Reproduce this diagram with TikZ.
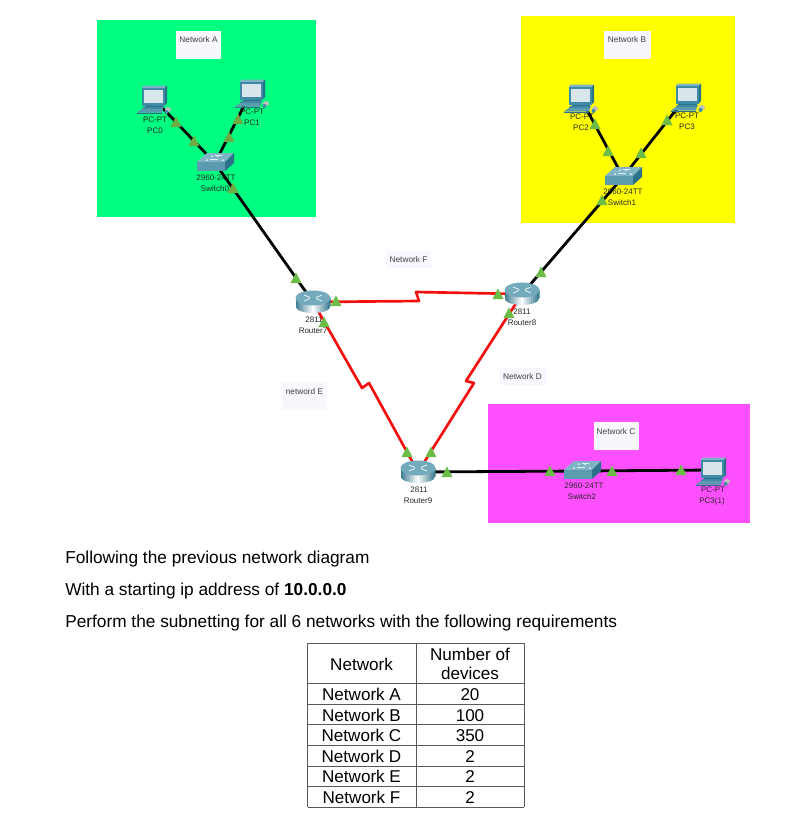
\documentclass[tikz,border=0pt]{standalone}
\usepackage{fontspec}
\setmainfont{Liberation Sans}
\definecolor{netgreen}{HTML}{00FF80}
\definecolor{netyellow}{HTML}{FFFF00}
\definecolor{netpink}{HTML}{FF50FF}
\definecolor{labelbg}{HTML}{F7F8FE}
\definecolor{linkred}{HTML}{F40F0F}
\definecolor{markgreen}{HTML}{6CBC48}
\definecolor{markolive}{HTML}{6FAB45}
\definecolor{icona}{HTML}{3F8AA5}
\definecolor{iconb}{HTML}{2B7189}
\definecolor{iconc}{HTML}{7FB4C6}
\definecolor{icond}{HTML}{5A9BB0}
\definecolor{screen}{HTML}{D8E5EB}
\tikzset{
  x=0.75pt,y=-0.75pt,
  wire/.style={draw=black,line width=2.1pt},
  serial/.style={draw=linkred,line width=2pt,line join=round},
  devtext/.style={font=\fontsize{6}{7}\selectfont,text=black!85,inner sep=0pt,text height=4.4pt,text depth=0pt},
  nettext/.style={font=\fontsize{6.2}{7}\selectfont,text=black!75,inner sep=0pt,text height=4.5pt,text depth=0pt},
  bodytext/.style={font=\fontsize{12.95}{15}\selectfont,inner sep=0pt,anchor=west,text height=9.3pt,text depth=0pt},
  celltext/.style={font=\fontsize{12.8}{15}\selectfont,inner sep=0pt,text height=9.2pt,text depth=0pt},
  rule/.style={draw=black!65,line width=0.65pt},
  pcicon/.pic={
    \fill[iconc] (-11.5,-10) -- (-9,-12.5) -- (14,-12.5) -- (11.5,-10) -- cycle;
    \fill[iconb] (11.5,-10) -- (14,-12.5) -- (14,5) -- (11.5,7.5) -- cycle;
    \fill[icona] (-11.5,-10) rectangle (11.5,7.5);
    \fill[screen] (-9.5,-8) rectangle (10,4.5);
    \fill[iconb] (-8,7.5) rectangle (10,9);
    \fill[icona] (-10,9) -- (11,9) -- (10,11) -- (-11,11) -- cycle;
    \fill[icond] (-11,11) -- (10,11) -- (9,14.5) -- (-16,14.5) -- cycle;
    \fill[iconb] (-16,14.5) -- (9,14.5) -- (9,15.5) -- (-16,15.5) -- cycle;
    \fill[gray!50] (15,11.5) ellipse [x radius=3,y radius=2.5];
    \fill[icona] (13.5,14) ellipse [x radius=2,y radius=2];
  },
  switchicon/.pic={
    \fill[iconc] (-18,-1) -- (-8,-10) -- (19,-10) -- (10,-1) -- cycle;
    \fill[icond] (-18,-1) rectangle (10,8);
    \fill[iconb] (10,-1) -- (19,-10) -- (19,0) -- (10,8) -- cycle;
    \fill[white!85!iconc] (-8,-3) circle (1) (-3,-7) circle (1) (3,-7) circle (1) (8,-3) circle (1);
    \draw[white!80!iconc,line width=0.5pt] (-5,-4) -- (3,-4) (0,-8) -- (7,-8);
  },
  routericon/.pic={
    \begin{scope}
      \clip (-17.5,-4) -- (-17.5,4) .. controls (-17.5,13.3) and (17.5,13.3) .. (17.5,4) -- (17.5,-4) -- cycle;
      \foreach \i in {0,...,17} {
        \pgfmathsetmacro{\mixv}{int(100-abs(\i-8)*11)}
        \fill[white!\mixv!iconb] (-17.5+\i*2,-12) rectangle (-15.3+\i*2,13);
      }
    \end{scope}
    \fill[icond!85!white] (0,-4) ellipse [x radius=17.5,y radius=7.5];
    \draw[white!85!icona,line width=0.7pt] (-9,-7) -- (-3,-4.5) (9,-7) -- (3,-4.5) (-9,-1) -- (-3,-3.5) (9,-1) -- (3,-3.5);
  },
  markg/.pic={\fill[markgreen] (-5.5,5) -- (0,-5.5) -- (5.5,5) -- cycle;},
  marko/.pic={\fill[markolive] (-5.5,5) -- (0,-5.5) -- (5.5,5) -- cycle;},
}
\begin{document}
\begin{tikzpicture}
\useasboundingbox (0,0) rectangle (805,826);
% network areas
\fill[netgreen] (97,20) rectangle (316,217);
\fill[netyellow] (521,16) rectangle (735,223);
\fill[netpink] (488,404) rectangle (750,523);
% network labels
\fill[labelbg] (176,31) rectangle (221,59);
\node[nettext] (labA) at (198.5,39.5) {Network A};
\fill[labelbg] (604,31) rectangle (651,59);
\node[nettext] (labB) at (627,39.5) {Network B};
\fill[labelbg] (594,422) rectangle (639,450);
\node[nettext] (labC) at (616,431) {Network C};
\fill[labelbg] (386,251) rectangle (431,268);
\node[nettext] (labF) at (408.5,259.5) {Network F};
\fill[labelbg] (500,368) rectangle (547,385);
\node[nettext] (labD) at (522.5,376.5) {Network D};
\fill[labelbg] (282,382) rectangle (327,410);
\node[nettext] (labE) at (304.5,391) {netword E};
% device anchors
\coordinate (pc0) at (153,98);
\coordinate (pc1) at (251,92);
\coordinate (sw0) at (215,163);
\coordinate (pc2) at (580,97);
\coordinate (pc3) at (687,96);
\coordinate (sw1) at (623,177);
\coordinate (r7) at (313,302);
\coordinate (r8) at (522,294);
\coordinate (r9) at (418,472);
\coordinate (sw2) at (582,471);
\coordinate (pc4) at (712,470);
\coordinate (fa) at (419,301);
\coordinate (fb) at (416,292);
\coordinate (ea) at (362,388);
\coordinate (eb) at (369,383);
\coordinate (da) at (466,381);
\coordinate (db) at (474,383);
% device labels
\node[devtext] (t0a) at (155,120) {PC-PT};
\node[devtext] (t0b) at (155,131) {PC0};
\node[devtext] (t1a) at (252,112) {PC-PT};
\node[devtext] (t1b) at (252,123) {PC1};
\node[devtext] (t2a) at (216,178) {2960-24TT};
\node[devtext] (t2b) at (215,189) {Switch0};
\node[devtext] (t3a) at (582,117) {PC-PT};
\node[devtext] (t3b) at (581,128) {PC2};
\node[devtext] (t4a) at (687,116) {PC-PT};
\node[devtext] (t4b) at (687,127) {PC3};
\node[devtext] (t5a) at (623,192) {2960-24TT};
\node[devtext] (t5b) at (622,203) {Switch1};
\node[devtext] (t6a) at (314,320) {2811};
\node[devtext] (t6b) at (313,331) {Router7};
\node[devtext] (t7a) at (522,312) {2811};
\node[devtext] (t7b) at (522,323) {Router8};
\node[devtext] (t8a) at (419,490) {2811};
\node[devtext] (t8b) at (418,500.5) {Router9};
\node[devtext] (t9a) at (584,486) {2960-24TT};
\node[devtext] (t9b) at (582,497) {Switch2};
\node[devtext] (t10a) at (713,490) {PC-PT};
\node[devtext] (t10b) at (712,501) {PC3(1)};
% links
\draw[wire] (pc0) -- (sw0);
\draw[wire] (pc1) -- (sw0);
\draw[wire] (pc2) -- (sw1);
\draw[wire] (pc3) -- (sw1);
\draw[wire] (sw0) -- (r7);
\draw[wire] (sw1) -- (r8);
\draw[wire] (r9) -- (sw2);
\draw[wire] (sw2) -- (pc4);
\draw[serial] (r7) -- (fa) -- (fb) -- (r8);
\draw[serial] (r7) -- (ea) -- (eb) -- (r9);
\draw[serial] (r8) -- (da) -- (db) -- (r9);
% devices
\pic at (pc0) {pcicon};
\pic at (pc1) {pcicon};
\pic at (pc2) {pcicon};
\pic at (pc3) {pcicon};
\pic at (pc4) {pcicon};
\pic at (sw0) {switchicon};
\pic at (sw1) {switchicon};
\pic at (sw2) {switchicon};
\pic at (r7) {routericon};
\pic at (r8) {routericon};
\pic at (r9) {routericon};
% link lights
\foreach \p in {(176,122),(194,141),(229,137),(238,119),(233,188)} \pic at \p {marko};
\foreach \p in {(296,278),(336,301),(324,322),(498,294),(509,313),(541,272),(407,452),(431,452),(447,472),(550,471),(612,471),(681,470),(595,124),(608,151),(641,153),(667,120),(602,200)} \pic at \p {markg};
% text
\node[bodytext] (l1) at (65,557.5) {Following the previous network diagram};
\node[bodytext] (l2) at (65,589.5) {With a starting ip address of \textbf{10.0.0.0}};
\node[bodytext] (l3) at (65,621.5) {Perform the subnetting for all 6 networks with the following requirements};
% table
\foreach \yy in {643,683,704,724,745,766,786,807} \draw[rule] (307.5,\yy) -- (524,\yy);
\foreach \xx in {307.5,416,524} \draw[rule] (\xx,643) -- (\xx,807);
\node[celltext] (h1) at (361.5,664) {Network};
\node[celltext] (h2) at (470,654) {Number of};
\node[celltext] (h3) at (470,673.5) {devices};
\node[celltext] (ra) at (361.5,694) {Network A};
\node[celltext] (rb) at (361.5,715) {Network B};
\node[celltext] (rc) at (361.5,735) {Network C};
\node[celltext] (rd) at (361.5,756) {Network D};
\node[celltext] (re) at (361.5,776) {Network E};
\node[celltext] (rf) at (361.5,797) {Network F};
\node[celltext] (va) at (470,694) {20};
\node[celltext] (vb) at (470,715) {100};
\node[celltext] (vc) at (470,735) {350};
\node[celltext] (vd) at (470,756) {2};
\node[celltext] (ve) at (470,776) {2};
\node[celltext] (vf) at (470,797) {2};
\end{tikzpicture}
\end{document}
